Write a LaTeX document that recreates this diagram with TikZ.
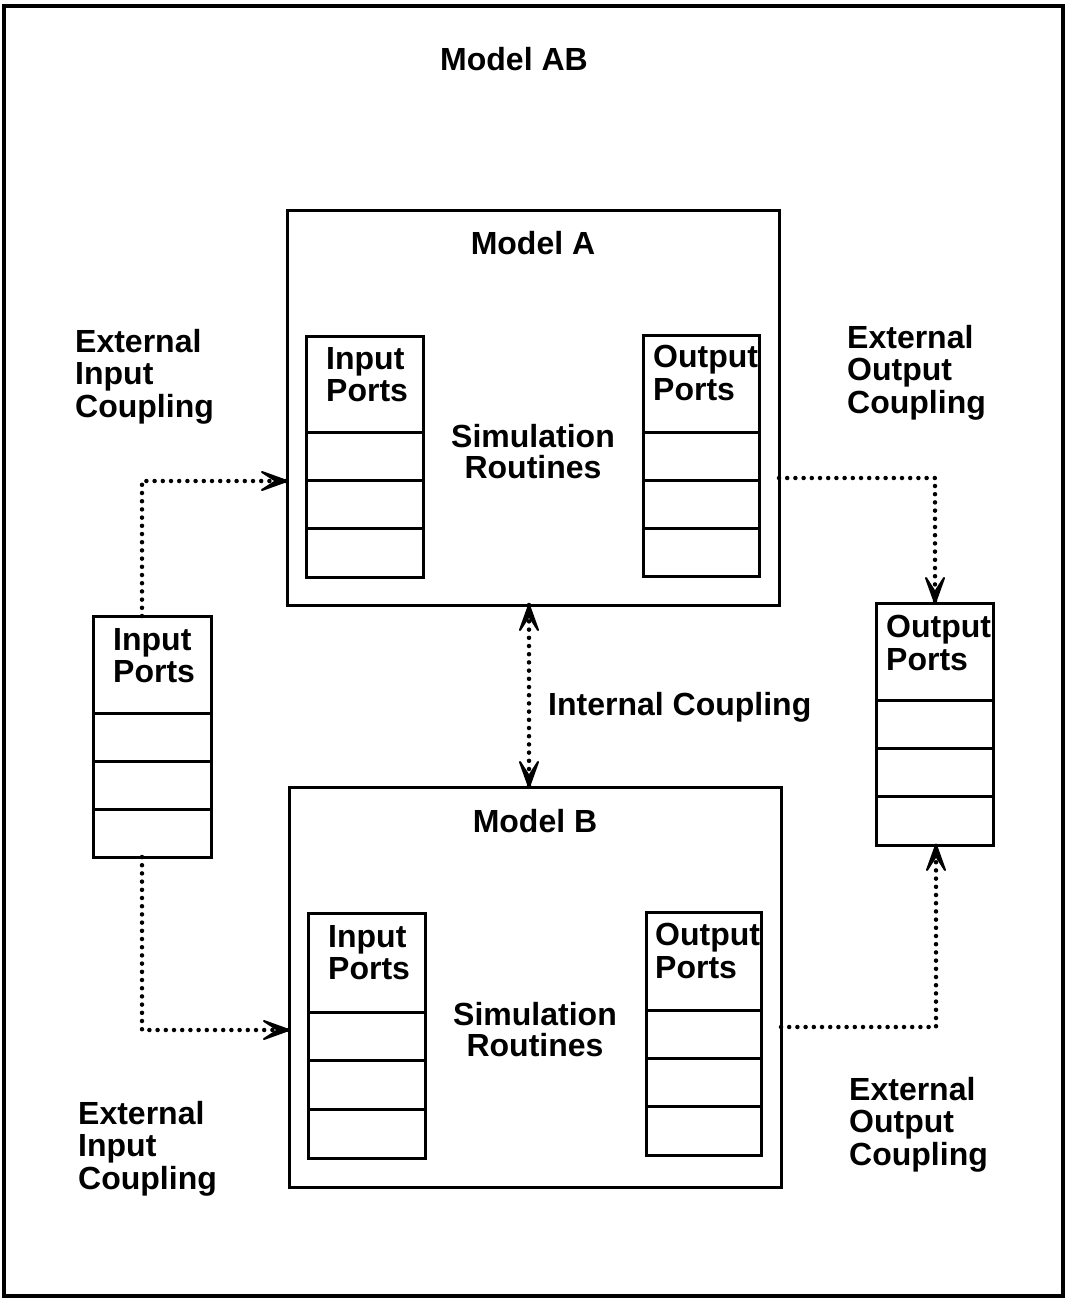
\documentclass[tikz,border=0pt]{standalone}
\usepackage{fontspec}
\setmainfont{Liberation Sans}
\begin{document}
\begin{tikzpicture}[x=1pt,y=-1pt,
  frame/.style={draw, line width=3pt, inner sep=0pt, outer sep=0pt, anchor=north west},
  stack/.style={draw, line width=3pt, inner sep=0pt, outer sep=0pt, anchor=north west},
  divider/.style={line width=3pt},
  lbl/.style={inner sep=0pt, anchor=north west, align=left,
    font=\fontsize{32}{32.5}\selectfont\bfseries},
  clbl/.style={inner sep=0pt, anchor=north, align=center,
    font=\fontsize{32}{31.5}\selectfont\bfseries},
  coupling/.style={line width=4.5pt, line cap=round, dash pattern=on 0pt off 8.2pt},
  headstyle/.style={fill, draw, line width=2pt, line join=round}
]
\useasboundingbox (0,0) rectangle (1065,1299);

% barbed arrowhead at a named point, pointing in the given canvas direction
\newcommand\barbhead[2]{%
  \path[headstyle, shift={(#1)}, rotate=#2]
    (0,0) -- (-25,9) -- (-11,0) -- (-25,-9) -- cycle;
}

% outer model frame
\node[frame, line width=4pt, minimum width=1059pt, minimum height=1290pt] (ab) at (4,6) {};
\node[clbl] (abt) at (514,47) {Model AB};

% port stack: name, left, top, width, total height, header height, cell height
\newcommand\portstack[7]{%
  \node[stack, minimum width=#4pt, minimum height=#5pt] (#1) at (#2,#3) {};
  \foreach \k in {0,1,2}{%
    \pgfmathsetmacro\dy{#6+\k*#7}%
    \draw[divider] ([yshift=-\dy pt]#1.north west) -- ([yshift=-\dy pt]#1.north east);
  }%
}

% Model A
\node[frame, minimum width=492pt, minimum height=395pt] (ma) at (287,210) {};
\node[clbl] (mat) at (533,231) {Model A};
\portstack{aip}{306}{336}{117}{241}{96}{48.3}
\portstack{aop}{643}{335}{116}{241}{97}{48}
\node[lbl] (aipl) at (326,347) {Input\\Ports};
\node[lbl] (aopl) at (653,345) {Output\\Ports};
\node[clbl] (asim) at (533,424) {Simulation\\Routines};

% Model B
\node[frame, minimum width=492pt, minimum height=400pt] (mb) at (289,787) {};
\node[clbl] (mbt) at (535,809) {Model B};
\portstack{bip}{308}{913}{117}{245}{99}{48.7}
\portstack{bop}{646}{912}{115}{243}{98}{48.3}
\node[lbl] (bipl) at (328,925) {Input\\Ports};
\node[lbl] (bopl) at (655,923) {Output\\Ports};
\node[clbl] (bsim) at (535,1002) {Simulation\\Routines};

% ports of Model AB
\portstack{ip}{93}{616}{118}{241}{97}{48.3}
\portstack{op}{876}{603}{117}{242}{97}{48.3}
\node[lbl] (ipl) at (113,628) {Input\\Ports};
\node[lbl] (opl) at (886,615) {Output\\Ports};

% coupling labels
\node[lbl] (eic1) at (75,329) {External\\Input\\Coupling};
\node[lbl] (eic2) at (78,1101) {External\\Input\\Coupling};
\node[lbl] (eoc1) at (847,325) {External\\Output\\Coupling};
\node[lbl] (eoc2) at (849,1077) {External\\Output\\Coupling};
\node[lbl] (icl) at (548,692) {Internal Coupling};

% coupling end points
\coordinate (eicA) at (ma.west |- 0,481);
\coordinate (eicB) at (mb.west |- 0,1030);
\coordinate (eocA) at (op.north -| 935,0);
\coordinate (eocB) at (op.south -| 936,0);
\coordinate (icA) at (ma.south -| 529,0);
\coordinate (icB) at (mb.north -| 529,0);

% couplings
\draw[coupling] (ip.north -| 142,0) |- (eicA);
\draw[coupling] (ip.south -| 142,0) |- (eicB);
\draw[coupling] (ma.east |- 0,478) -| (eocA);
\draw[coupling] (mb.east |- 0,1027) -| (eocB);
\draw[coupling] (icA) -- (icB);
\barbhead{eicA}{0}
\barbhead{eicB}{0}
\barbhead{eocA}{-90}
\barbhead{eocB}{90}
\barbhead{icA}{90}
\barbhead{icB}{-90}
\end{tikzpicture}
\end{document}
